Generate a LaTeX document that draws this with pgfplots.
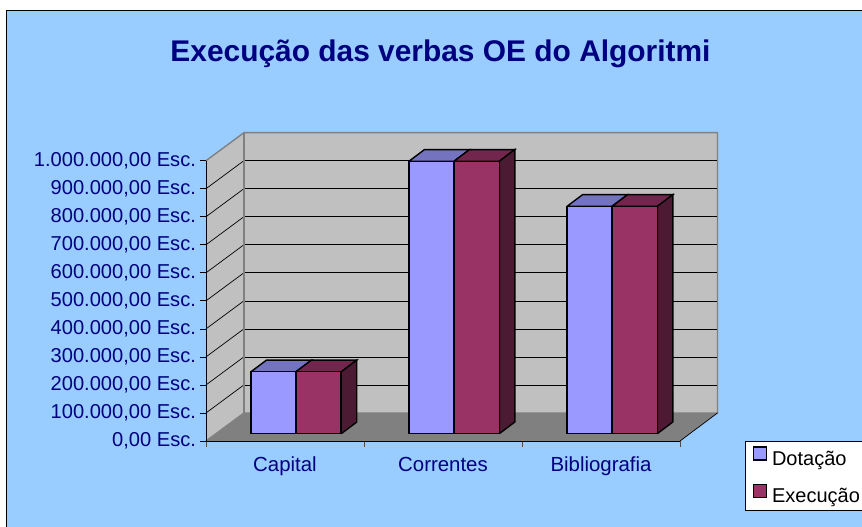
\documentclass[border=0pt]{standalone}
\usepackage{pgfplots}
\pgfplotsset{compat=1.18}
\usepackage{fontspec}
\setmainfont{Liberation Sans}
\definecolor{chartbg}{RGB}{153,204,255}
\definecolor{wall}{RGB}{192,192,192}
\definecolor{floorc}{RGB}{128,128,128}
\definecolor{navyc}{RGB}{0,0,128}
\definecolor{blueF}{RGB}{153,153,255}
\definecolor{blueT}{RGB}{115,115,191}
\definecolor{redF}{RGB}{153,51,102}
\definecolor{redT}{RGB}{115,38,77}
\definecolor{redS}{RGB}{77,26,51}
\begin{document}
\begin{tikzpicture}[x=1pt,y=1pt]
\useasboundingbox (-206,-86) rectangle (656,441);
\fill[white] (-206,-86) rectangle (656,441);
\fill[chartbg] (-199.3,-90) rectangle (660,430.3);
\draw[black,line width=1.4pt] (-199.3,-90) -- (-199.3,430.3) -- (660,430.3);
\begin{axis}[
  at={(0pt,0pt)}, anchor=origin,
  scale only axis, width=474pt, height=280.3pt,
  xmin=206, xmax=680, ymin=0, ymax=1000000,
  clip=false, axis on top,
  scaled y ticks=false,
  axis x line*=bottom, axis y line*=left,
  axis line style={black,line width=0.8pt,-},
  xtick={285,443,601},
  xticklabels={Capital,Correntes,Bibliografia},
  minor xtick={206,364,522,680},
  ytick={0,100000,200000,300000,400000,500000,600000,700000,800000,900000,1000000},
  yticklabels={{0,00 Esc.},{100.000,00 Esc.},{200.000,00 Esc.},{300.000,00 Esc.},{400.000,00 Esc.},{500.000,00 Esc.},{600.000,00 Esc.},{700.000,00 Esc.},{800.000,00 Esc.},{900.000,00 Esc.},{1.000.000,00 Esc.}},
  tick align=outside,
  xtick style={draw=none},
  minor x tick style={draw=black!70,line width=0.7pt},
  minor tick length=6pt,
  major tick length=6pt,
  ytick style={black,line width=0.7pt},
  tick label style={text=navyc,font=\fontsize{20.1}{22}\selectfont},
  xticklabel style={yshift=-6.5pt,font=\fontsize{20.4}{22}\selectfont,text height=14.5pt,text depth=4pt},
  yticklabel style={xshift=-0.5pt},
  ybar, bar width=45.2pt,
  legend style={at={(axis cs:745.3,-1000)},anchor=north west,
    draw=black,line width=0.9pt,fill=white,
    font=\fontsize{20}{22}\selectfont,text=black,
    inner xsep=7pt,inner ysep=4.7pt,
    row sep=15.2pt,
    cells={anchor=base west}},
  legend image code/.code={
    \draw[#1,draw=black,line width=1.3pt] (0pt,-2.3pt) rectangle (13pt,10.7pt);
  },
]
% floor and walls
\fill[floorc] (axis cs:206,0) -- ++(38pt,28pt) -- ++(473.5pt,0pt) -- (axis cs:680,0) -- cycle;
\fill[wall] (axis cs:206,0) -- ++(38pt,28pt) -- ++(0pt,280.3pt) -- ++(-38pt,-28pt) -- cycle;
\fill[wall] (axis cs:206,0) ++(38pt,28pt) rectangle ++(473.5pt,280.3pt);
\draw[floorc,line width=1.4pt] (axis cs:206,0) -- ++(38pt,28pt) -- ++(473.5pt,0pt) -- ++(0pt,280.3pt) -- ++(-473.5pt,0pt) -- ++(-38pt,-28pt);
\draw[black,line width=0.7pt] (axis cs:680,0) -- ++(37.5pt,28pt);
\pgfplotsinvokeforeach{100000,200000,300000,400000,500000,600000,700000,800000,900000}{
  \draw[black,line width=0.7pt] (axis cs:206,#1) -- ++(37.3pt,27.6pt);
  \draw[black,line width=0.7pt] (axis cs:206,#1) ++(38.8pt,28pt) -- ++(471.8pt,0pt);
}
\draw[floorc,line width=1.4pt] (axis cs:206,0) ++(38pt,28pt) -- ++(0pt,280.3pt);
% depth faces of the bars (top faces and right sides)
\addplot[forget plot,fill=blueT,draw=black,line width=1.4pt,yshift=7.3pt,sharp plot] coordinates {(251,221000)(296,221000)(311.5,262700)(266.5,262700)(251,221000)};
\addplot[forget plot,fill=redT,draw=black,line width=1.4pt,yshift=7.3pt,sharp plot] coordinates {(296,221000)(341.3,221000)(356.8,262700)(311.5,262700)(296,221000)};
\addplot[forget plot,fill=redS,draw=black,line width=1.4pt,yshift=7.3pt,sharp plot] coordinates {(341.3,0)(341.3,221000)(356.8,262700)(356.8,41700)(341.3,0)};
\addplot[forget plot,fill=blueT,draw=black,line width=1.4pt,yshift=7.3pt,sharp plot] coordinates {(409,972000)(454,972000)(469.5,1013700)(424.5,1013700)(409,972000)};
\addplot[forget plot,fill=redT,draw=black,line width=1.4pt,yshift=7.3pt,sharp plot] coordinates {(454,972000)(499.3,972000)(514.8,1013700)(469.5,1013700)(454,972000)};
\addplot[forget plot,fill=redS,draw=black,line width=1.4pt,yshift=7.3pt,sharp plot] coordinates {(499.3,0)(499.3,972000)(514.8,1013700)(514.8,41700)(499.3,0)};
\addplot[forget plot,fill=blueT,draw=black,line width=1.4pt,yshift=7.3pt,sharp plot] coordinates {(567,811000)(612,811000)(627.5,852700)(582.5,852700)(567,811000)};
\addplot[forget plot,fill=redT,draw=black,line width=1.4pt,yshift=7.3pt,sharp plot] coordinates {(612,811000)(657.3,811000)(672.8,852700)(627.5,852700)(612,811000)};
\addplot[forget plot,fill=redS,draw=black,line width=1.4pt,yshift=7.3pt,sharp plot] coordinates {(657.3,0)(657.3,811000)(672.8,852700)(672.8,41700)(657.3,0)};
% front faces
\addplot[ybar,bar shift=-11.5pt,fill=blueF,draw=black,line width=1.4pt,yshift=7.3pt] coordinates {(285,221000)(443,972000)(601,811000)};
\addlegendentry{\hspace*{3pt}Dotação}
\addplot[ybar,bar shift=33.6pt,fill=redF,draw=black,line width=1.4pt,yshift=7.3pt] coordinates {(285,221000)(443,972000)(601,811000)};
\addlegendentry{\hspace*{3pt}Execução\hspace*{10pt}\vrule width 0pt depth 8pt height 1pt}
\end{axis}
\node[font=\fontsize{29.9}{32}\selectfont\bfseries,text=navyc,anchor=base] at (234.5,379) {Execução das verbas OE do Algoritmi};
\end{tikzpicture}
\end{document}
